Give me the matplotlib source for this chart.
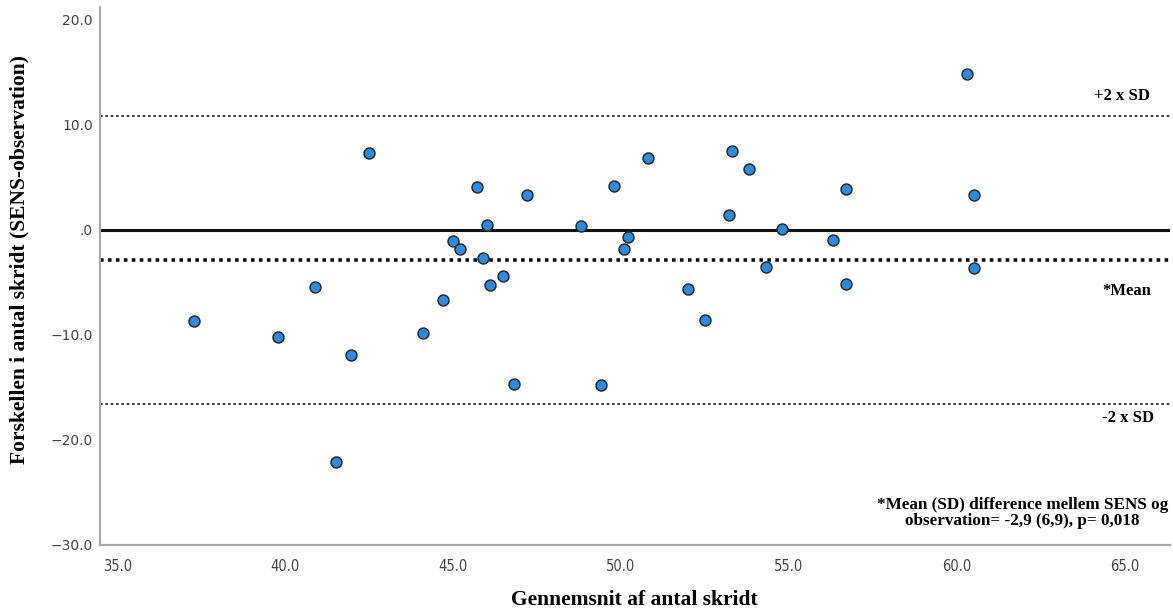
import matplotlib.pyplot as plt
import numpy as np

# Bland-Altman data: mean of the two counts vs. difference
mean_steps = [37.3, 39.8, 40.9, 41.95, 42.5, 41.5, 44.1, 44.7, 45.0, 45.2,
              45.7, 45.9, 46.0, 46.1, 46.5, 46.8, 47.2, 48.8, 49.4, 49.8,
              50.1, 50.2, 50.8, 52.0, 52.5, 53.2, 53.3, 53.8, 54.3, 54.8,
              56.3, 56.7, 56.7, 60.3, 60.5, 60.5]
diff_steps = [-8.7, -10.2, -5.4, -11.9, 7.3, -22.1, -9.8, -6.7, -1.05, -1.8,
              4.1, -2.7, 0.5, -5.3, -4.4, -14.7, 3.3, 0.4, -14.8, 4.2,
              -1.8, -0.7, 6.8, -5.6, -8.6, 1.4, 7.5, 5.8, -3.5, 0.1,
              -1.0, 3.9, -5.2, 14.8, 3.3, -3.6]

mean_diff = -2.9
upper_sd = 10.8
lower_sd = -16.6

x_ticks = [35, 40, 45, 50, 55, 60, 65]
y_ticks = [20, 10, 0, -10, -20, -30]
y_tick_labels = ["20.0", "10.0", ".0", "\u221210.0", "\u221220.0", "\u221230.0"]

fig = plt.figure(figsize=(11.73, 6.16), dpi=100)
ax = fig.add_axes([100/1173, 71/616, 1070/1173, 538/616])

ax.axhline(0, color="#111111", linewidth=2.2, zorder=2)
ax.axhline(mean_diff, color="#111111", linewidth=2.6, linestyle=(0, (1, 1.2)), zorder=2)
ax.axhline(upper_sd, color="#444444", linewidth=1.6, linestyle=(0, (1.2, 1.2)), zorder=2)
ax.axhline(lower_sd, color="#444444", linewidth=1.6, linestyle=(0, (1.2, 1.2)), zorder=2)

ax.scatter(mean_steps, diff_steps, s=62, color="#2a8be0", edgecolor="#2b2b2b",
           linewidth=1.1, zorder=3)

ax.set_xlim(34.49, 66.34)
ax.set_ylim(-30, 21.2)
ax.set_xticks(x_ticks)
ax.set_xticklabels(["%.1f" % v for v in x_ticks], fontfamily="DejaVu Sans",
                   fontstretch="condensed", fontsize=10.5, color="#444444")
ax.set_yticks(y_ticks)
ax.set_yticklabels(y_tick_labels, fontfamily="DejaVu Sans", fontsize=10,
                   color="#444444")
ax.tick_params(axis="both", length=0)
ax.tick_params(axis="y", pad=5)
ax.tick_params(axis="x", pad=10)

for side in ["top", "right"]:
    ax.spines[side].set_visible(False)
for side in ["left", "bottom"]:
    ax.spines[side].set_color("#aaaaaa")
    ax.spines[side].set_linewidth(1.6)

serif = "Liberation Serif"
ax.set_xlabel("Gennemsnit af antal skridt", fontfamily=serif, fontweight="bold",
              fontsize=15.5)
ax.xaxis.set_label_coords(0.499, -0.084)
ax.set_ylabel("Forskellen i antal skridt (SENS-observation)", fontfamily=serif,
              fontweight="bold", fontsize=15.5)
ax.yaxis.set_label_coords(-0.066, 0.53)

ax.text(64.9, 12.7, "+2 x SD", fontfamily=serif, fontweight="bold", fontsize=12,
        ha="center", va="center")
ax.text(65.05, -5.8, "*Mean", fontfamily=serif, fontweight="bold", fontsize=12,
        ha="center", va="center")
ax.text(65.1, -17.9, "-2 x SD", fontfamily=serif, fontweight="bold", fontsize=12,
        ha="center", va="center")
ax.text(61.95, -26.95, "*Mean (SD) difference mellem SENS og\nobservation= -2,9 (6,9), p= 0,018",
        fontfamily=serif, fontweight="bold", fontsize=12.3, ha="center", va="center",
        linespacing=1.0)

fig.savefig("out.png", dpi=100)
